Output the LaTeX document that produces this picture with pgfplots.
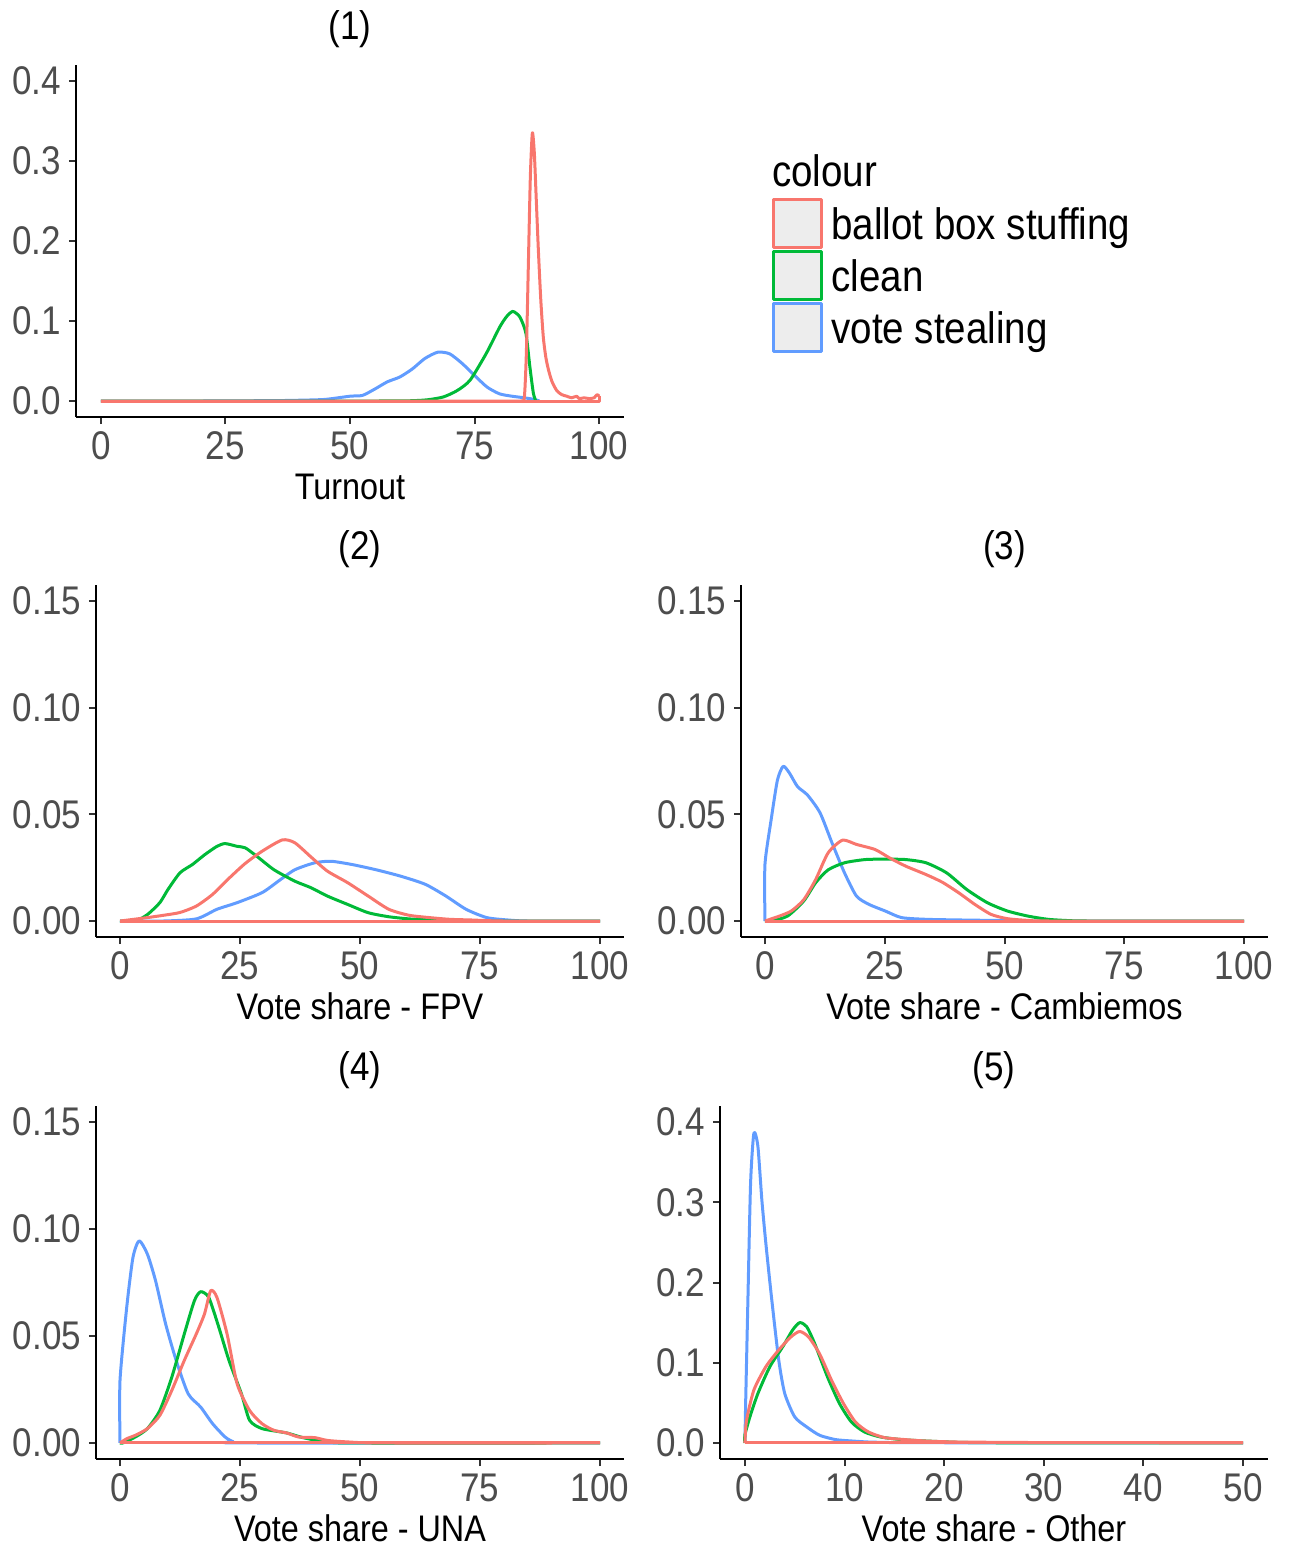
\documentclass[border=0pt]{standalone}
\usepackage{fontspec}
\setmainfont{Liberation Sans}[FakeStretch=0.875]
\usepackage{pgfplots}
\pgfplotsset{compat=1.18}

\definecolor{bbs}{HTML}{F8766D}
\definecolor{clean}{HTML}{00BA38}
\definecolor{steal}{HTML}{619CFF}
\definecolor{tickgray}{HTML}{4D4D4D}
\definecolor{keybg}{HTML}{EDEDED}

\pgfplotsset{
  dens/.style={
    scale only axis,
    axis lines=left, axis line style={-, line width=1pt, black},
    tick align=outside, major tick length=3.5pt,
    tick style={line width=1pt, black!80},
    tick label style={font=\fontsize{20}{24}\selectfont, text=tickgray},
    /pgf/number format/assume math mode=true,
    scaled y ticks=false,
    label style={font=\fontsize{18.5}{22}\selectfont},
    title style={font=\fontsize{20}{24}\selectfont, at={(0.5,1)}, anchor=base, yshift=7pt},
    xlabel style={at={(0.5,0)}, anchor=base, yshift=-41pt},
    xticklabel style={anchor=base, yshift=-17.5pt},
    yticklabel style={anchor=east, xshift=-0.5pt},
    every axis plot/.append style={line width=1.5pt, mark=none, line join=round},
    curve/.style={smooth, tension=0.4},
    xmin=-5, xmax=105, xtick={0,25,50,75,100},
  },
  small/.style={ymin=-0.0075, ymax=0.1575, ytick={0,0.05,0.1,0.15},
    yticklabel style={/pgf/number format/.cd, fixed, fixed zerofill, precision=2}},
  big/.style={ymin=-0.02, ymax=0.42, ytick={0,0.1,0.2,0.3,0.4},
    yticklabel style={/pgf/number format/.cd, fixed, fixed zerofill, precision=1}},
}

\begin{document}
\begin{tikzpicture}
\useasboundingbox (0,0) rectangle (645pt,-771pt);

% (1) turnout
\begin{axis}[dens, big, at={(38pt,-208.5pt)}, anchor=south west,
    width=274pt, height=176pt, title={(1)}, xlabel={Turnout},
    reverse legend,
    legend image code/.code={\draw[#1, sharp plot, fill=keybg] (0pt,-11.5pt) rectangle (24pt,12.5pt);},
    legend style={at={(1.2701,0.6222)}, anchor=north west, draw=none, fill=none,
      inner sep=0pt, row sep=0.5pt, font=\fontsize{22}{26}\selectfont,
      nodes={inner sep=1pt},
      /tikz/every odd column/.append style={column sep=3pt}},
    legend cell align=left]
\addplot[steal, curve] coordinates {(0,0) (20,0) (35,0.0005) (40,0.001) (45,0.002) (50,0.006) (52.5,0.007)
  (55,0.015) (57.5,0.024) (60,0.03) (62.5,0.04) (65,0.053) (67.6,0.061) (70,0.059)
  (72.5,0.047) (75,0.032) (77.5,0.0175) (80,0.009) (82.5,0.006) (85,0.004) (87,0.002)
  (88,0)};
\addlegendentry{vote stealing}
\addplot[clean, curve] coordinates {(0,0) (30,0) (55,0) (62,0.0003) (65.5,0.0015) (68.7,0.005)
  (71.5,0.013) (74.1,0.026) (77.4,0.06) (80.1,0.093) (81.5,0.106) (82.7,0.112)
  (84.1,0.105) (85.3,0.085) (86.1,0.043) (86.8,0.01) (87.3,0)};
\addlegendentry{clean}
\addplot[bbs, curve] coordinates {(0,0) (40,0) (80,0) (84.3,0) (85.0,0.005) (85.4,0.06) (85.8,0.17) (86.2,0.28)
  (86.6,0.335) (87.0,0.31) (87.4,0.25) (87.8,0.19) (88.3,0.126) (88.8,0.08) (89.3,0.055)
  (89.8,0.04) (90.5,0.025) (91.5,0.013) (92.5,0.008) (93.5,0.006) (94.5,0.004)
  (95.5,0.006) (96,0.003) (97,0.004) (98,0.003) (99,0.004) (99.6,0.008) (100,0.006)};
\addlegendentry{ballot box stuffing}
\addplot[bbs, forget plot] coordinates {(0,0) (100,0) (100,0.006)};
\end{axis}

\node[anchor=base west, font=\fontsize{22}{26}\selectfont] at (382.5pt,-93pt) {colour};

% (2) FPV
\begin{axis}[dens, small, at={(48pt,-468.5pt)}, anchor=south west,
    width=264pt, height=176pt, title={(2)}, xlabel={Vote share - FPV}]
\addplot[steal, curve] coordinates {(0,0) (9,0) (15.9,0.001) (20.2,0.0055) (24.4,0.0086) (29.6,0.0133)
  (33,0.0187) (36.4,0.024) (40.6,0.0273) (44,0.028) (48.3,0.0265) (53.4,0.024)
  (58.5,0.021) (63.6,0.0172) (67.9,0.0117) (72.1,0.0055) (76.4,0.0016) (80.7,0.0005)
  (85,0) (100,0)};
\addplot[clean, curve] coordinates {(0,0) (3.2,0) (5.7,0.003) (8.3,0.0086) (10,0.0148) (12.5,0.0226)
  (15.1,0.0265) (17.6,0.031) (20.2,0.035) (21.9,0.0363) (24.4,0.035) (26.1,0.0343)
  (28.7,0.030) (32.1,0.024) (36.4,0.0187) (39.8,0.0156) (43.2,0.0117) (47.4,0.0078)
  (51.7,0.0039) (56,0.002) (60.2,0.001) (64.5,0.0005) (70,0) (100,0)};
\addplot[bbs, curve] coordinates {(0,0) (5.7,0.0016) (9.1,0.0027) (12.5,0.004) (15.9,0.007)
  (19.3,0.0125) (22.7,0.02) (26.1,0.027) (29.6,0.0327) (33.8,0.038) (36.4,0.0367)
  (39.8,0.030) (43.2,0.0234) (47.4,0.018) (51.7,0.0117) (56,0.0055) (60.2,0.0027)
  (64.5,0.0016) (68.7,0.0008) (73,0.0005) (80,0) (100,0)};
\addplot[bbs] coordinates {(0,0) (100,0)};
\end{axis}

% (3) Cambiemos
\begin{axis}[dens, small, at={(370.5pt,-468.5pt)}, anchor=south west,
    width=263.5pt, height=176pt, title={(3)}, xlabel={Vote share - Cambiemos}]
\addplot[steal, curve] coordinates {(0,0) (0,0.0265) (1.3,0.0476) (2.6,0.066) (3.8,0.0725)
  (5.1,0.0694) (6.8,0.063) (8.9,0.059) (11.5,0.0507) (14,0.0366) (16.6,0.0226)
  (19.1,0.0117) (21.7,0.0078) (25.1,0.0047) (28.5,0.0016) (33.6,0.0008) (40.4,0.0005)
  (50,0.0002) (55,0) (100,0)};
\addplot[clean, curve] coordinates {(0,0) (1.3,0) (4.7,0.0023) (8.1,0.0094) (10.6,0.018)
  (13.2,0.024) (16.6,0.0273) (20.9,0.0288) (25.1,0.029) (29.4,0.0288) (33.6,0.0273)
  (37.9,0.0226) (42.1,0.0148) (46.4,0.0086) (50.6,0.0047) (54.9,0.0023) (59.1,0.0008)
  (63.4,0.0002) (68,0) (100,0)};
\addplot[bbs, curve] coordinates {(0,0) (3,0.0023) (5.5,0.0047) (8.1,0.01) (10.6,0.0195)
  (13.2,0.032) (16.2,0.0379) (19.1,0.0359) (23,0.0335) (26,0.0296) (29.4,0.0257)
  (33.6,0.0218) (37,0.0182) (40.4,0.0133) (43.8,0.0078) (47.2,0.0031) (50.6,0.0011)
  (54.9,0.0003) (60,0) (100,0)};
\addplot[bbs] coordinates {(0,0) (100,0)};
\end{axis}

% (4) UNA
\begin{axis}[dens, small, at={(48pt,-729.5pt)}, anchor=south west,
    width=264pt, height=176.5pt, title={(4)}, xlabel={Vote share - UNA}]
\addplot[steal, curve] coordinates {(0,0) (0,0.0292) (1.4,0.0634) (2.7,0.0867) (4,0.0945)
  (5.7,0.0883) (7.4,0.0759) (9.5,0.0557) (11.7,0.0386) (14.2,0.023) (16.8,0.0168)
  (19.3,0.009) (21.9,0.0028) (23.6,0.0006) (26,0) (100,0)};
\addplot[clean, curve] coordinates {(0,0) (0.6,0) (3.2,0.0028) (5.7,0.0067) (8.3,0.0152)
  (10.8,0.0308) (13.4,0.051) (15.5,0.0665) (16.8,0.0707) (18.5,0.068) (20.6,0.054)
  (22.7,0.0386) (25.3,0.023) (27,0.0106) (29.6,0.0067) (34.7,0.0047) (38.1,0.0025)
  (43,0.0005) (50,0) (100,0)};
\addplot[bbs, curve] coordinates {(0,0) (1.4,0.002) (3.2,0.0036) (5.7,0.0067) (8.3,0.0129)
  (10.8,0.0246) (13.4,0.0386) (15.9,0.051) (17.6,0.0603) (18.9,0.0712) (20.2,0.068)
  (22.3,0.051) (24.4,0.0277) (27,0.0152) (29.6,0.009) (32.1,0.0059) (34.7,0.0047)
  (37.2,0.0028) (40.6,0.0025) (43.2,0.0012) (47.4,0.0005) (55,0) (100,0)};
\addplot[bbs] coordinates {(0,0) (100,0)};
\end{axis}

% (5) Other
\begin{axis}[dens, big, at={(360pt,-729.5pt)}, anchor=south west,
    width=274pt, height=176.5pt, title={(5)}, xlabel={Vote share - Other},
    xmin=-2.5, xmax=52.5, xtick={0,10,20,30,40,50}]
\addplot[steal, curve] coordinates {(0,0) (0.08,0.053) (0.3,0.178) (0.57,0.324) (0.9,0.386)
  (1.3,0.37) (1.7,0.303) (2.1,0.249) (2.7,0.178) (3.4,0.103) (4,0.0616) (5,0.0325)
  (6.2,0.02) (7.5,0.0096) (9.1,0.0042) (10.7,0.0025) (12.4,0.0012) (15,0.0005)
  (20,0.0003) (22,0) (50,0)};
\addplot[clean, curve] coordinates {(0,0) (0,0.01) (0.5,0.0325) (1.3,0.0616) (2.5,0.095)
  (3.8,0.12) (4.8,0.141) (5.5,0.15) (6.2,0.145) (7,0.124) (8.3,0.082) (9.5,0.049)
  (10.7,0.026) (12,0.0137) (13.6,0.0075) (15.7,0.0042) (18.1,0.0025) (21.4,0.0008)
  (25,0.0003) (30,0) (50,0)};
\addplot[bbs, curve] coordinates {(0,0) (0.16,0.028) (0.9,0.066) (2.1,0.095) (3.4,0.116)
  (4.6,0.132) (5.5,0.139) (6.4,0.132) (7.5,0.111) (8.7,0.078) (9.9,0.049) (11.1,0.026)
  (12.4,0.0137) (14,0.0067) (16.1,0.0042) (18.1,0.0025) (21.4,0.0012) (30,0.0005)
  (40,0.0003) (50,0.0002)};
\addplot[bbs] coordinates {(0,0) (50,0)};
\end{axis}
\end{tikzpicture}
\end{document}
